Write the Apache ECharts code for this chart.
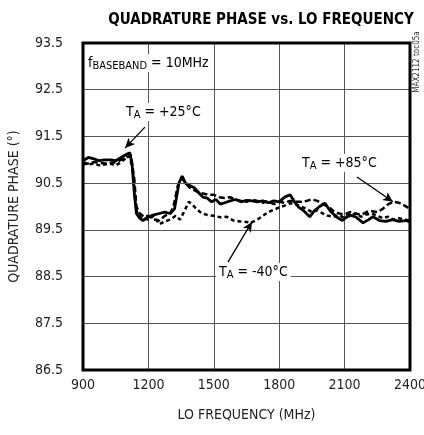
<!DOCTYPE html>
<html><head><meta charset="utf-8">
<script src="https://cdn.jsdelivr.net/npm/echarts@6/dist/echarts.min.js"></script>
<style>html,body{margin:0;padding:0;background:#fff}#c{width:424px;height:435px}</style>
</head><body><div id="c"></div>
<script>
const xTicks = [900, 1200, 1500, 1800, 2100, 2400];
const yTicks = [86.5, 87.5, 88.5, 89.5, 90.5, 91.5, 92.5, 93.5];

const freq25 = [900,925,950,975,1000,1025,1050,1075,1100,1115,1125,1135,1145,1160,1175,1200,1225,1250,1275,1300,1320,1340,1355,1370,1390,1410,1430,1450,1470,1490,1510,1530,1550,1575,1600,1625,1650,1675,1700,1725,1750,1775,1800,1825,1850,1870,1890,1910,1940,1960,1985,2010,2035,2065,2090,2120,2150,2185,2210,2230,2260,2290,2320,2350,2380,2400];
const phase25 = [90.98,91.05,91.02,90.98,91.0,91.0,90.98,91.05,91.12,91.15,90.9,90.3,89.85,89.75,89.7,89.78,89.82,89.85,89.88,89.85,89.95,90.5,90.65,90.5,90.45,90.4,90.3,90.2,90.18,90.1,90.15,90.05,90.08,90.12,90.15,90.1,90.13,90.12,90.1,90.12,90.08,90.12,90.1,90.2,90.25,90.1,89.98,89.92,89.78,89.9,90.0,90.07,89.9,89.77,89.7,89.82,89.78,89.65,89.72,89.78,89.7,89.68,89.72,89.68,89.7,89.67];

const freq85 = [900,950,1000,1050,1100,1120,1135,1145,1160,1180,1200,1225,1250,1275,1300,1315,1335,1355,1370,1390,1410,1430,1450,1475,1500,1525,1550,1575,1600,1625,1650,1675,1700,1725,1750,1775,1800,1825,1850,1875,1900,1925,1950,1975,2000,2025,2050,2075,2100,2125,2150,2175,2200,2225,2250,2275,2300,2325,2350,2375,2400];
const phase85 = [90.9,90.95,90.92,90.95,91.05,91.1,90.6,90.0,89.85,89.78,89.8,89.72,89.7,89.8,89.85,90.0,90.45,90.6,90.5,90.4,90.35,90.3,90.28,90.25,90.25,90.2,90.18,90.2,90.15,90.12,90.1,90.15,90.12,90.08,90.12,90.05,90.1,90.08,90.12,90.1,90.1,90.12,90.15,90.12,90.05,90.0,89.9,89.85,89.83,89.88,89.85,89.82,89.88,89.9,89.88,89.95,90.05,90.1,90.08,90.02,89.95];

const freqM40 = [900,925,950,975,1000,1025,1050,1075,1100,1115,1130,1140,1150,1170,1200,1225,1250,1275,1300,1325,1345,1365,1385,1400,1420,1445,1470,1500,1530,1560,1590,1620,1650,1670,1700,1725,1750,1775,1800,1825,1850,1875,1900,1925,1950,1975,2000,2025,2050,2075,2100,2125,2150,2175,2200,2225,2250,2275,2300,2325,2350,2375,2400];
const phaseM40 = [90.95,90.9,90.92,90.88,90.9,90.92,90.88,90.95,91.05,91.08,90.7,90.1,89.82,89.75,89.72,89.8,89.62,89.68,89.72,89.8,89.72,89.9,90.1,90.05,89.95,89.85,89.82,89.8,89.77,89.78,89.7,89.68,89.67,89.65,89.72,89.8,89.88,89.93,89.98,90.02,90.07,90.05,90.0,89.95,89.88,89.92,89.85,89.8,89.78,89.82,89.75,89.8,89.85,89.78,89.83,89.85,89.8,89.75,89.78,89.72,89.75,89.72,89.7];

const gridValues = [87.5, 88.5, 89.5, 90.5, 91.5, 92.5];

const FONT = '"Liberation Sans Narrow", "DejaVu Sans Condensed", "Liberation Sans", sans-serif';
const zip = (a, b) => a.map((v, i) => [v, b[i]]);

const chart = echarts.init(document.getElementById('c'), null, {renderer: 'canvas'});
const arrowStyle = {color: '#000', width: 1.3, type: 'solid'};
const richTA = {
  a: {fontFamily: FONT, fontSize: 14, color: '#222', verticalAlign: 'top', lineHeight: 16},
  s: {fontFamily: FONT, fontSize: 11, color: '#222', verticalAlign: 'top', lineHeight: 16, padding: [5, 0, 0, 0]}
};
chart.setOption({
  animation: false,
  title: {
    text: 'QUADRATURE PHASE vs. LO FREQUENCY',
    left: 256, top: 8, textAlign: 'center',
    textStyle: {fontFamily: FONT, fontWeight: 'bold', fontSize: 15, color: '#000'}
  },
  grid: {left: 83, top: 43, right: 14, bottom: 65, show: false, outerBoundsMode: 'none', containLabel: false},
  xAxis: {
    type: 'value', min: 900, max: 2400, interval: 300,
    name: 'LO FREQUENCY (MHz)', nameLocation: 'middle', nameGap: 38,
    nameTextStyle: {fontFamily: FONT, fontSize: 14, color: '#222'},
    axisLine: {show: false}, axisTick: {show: false},
    axisLabel: {fontFamily: FONT, fontSize: 14, color: '#222', margin: 8, showMaxLabel: true,
      formatter: v => String(v)},
    splitLine: {show: true, lineStyle: {color: '#555', width: 1}}
  },
  yAxis: {
    type: 'value', min: 86.5, max: 93.5, interval: 0.5,
    name: 'QUADRATURE PHASE (°)', nameLocation: 'middle', nameGap: 62, nameRotate: 90,
    nameTextStyle: {fontFamily: FONT, fontSize: 14, color: '#222'},
    axisLine: {show: false}, axisTick: {show: false},
    axisLabel: {
      fontFamily: FONT, fontSize: 14, color: '#222', margin: 20,
      formatter: v => yTicks.some(t => Math.abs(t - v) < 1e-6) ? v.toFixed(1) : ''
    },
    splitLine: {show: false}
  },
  series: [
    {
      name: 'grid', type: 'line', data: [], silent: true,
      markLine: {
        silent: true, symbol: 'none', label: {show: false},
        lineStyle: {color: '#555', width: 1, type: 'solid'},
        data: gridValues.map(v => ({yAxis: v}))
      }
    },
    {
      name: '-40', type: 'line', data: zip(freqM40, phaseM40), showSymbol: false, symbol: 'none',
      lineStyle: {color: '#000', width: 2.5, type: [4, 3]}
    },
    {
      name: '85', type: 'line', data: zip(freq85, phase85), showSymbol: false, symbol: 'none',
      lineStyle: {color: '#000', width: 2.5, type: [6, 3]}
    },
    {
      name: '25', type: 'line', data: zip(freq25, phase25), showSymbol: false, symbol: 'none',
      lineStyle: {color: '#000', width: 2.8, type: 'solid'},
      markLine: {
        silent: true, symbol: ['none', 'arrow'], symbolSize: [7, 10], label: {show: false},
        lineStyle: arrowStyle,
        data: [
          [{coord: [1184, 91.70]}, {coord: [1093, 91.25]}],
          [{coord: [2157, 90.63]}, {coord: [2322, 90.10]}],
          [{coord: [1565, 88.81]}, {coord: [1675, 89.67]}]
        ]
      }
    }
  ],
  graphic: [
    {type: 'rect', shape: {x: 83, y: 43, width: 327, height: 327}, style: {fill: 'none', stroke: '#000', lineWidth: 3}, z: 100},
    {type: 'text', left: 86, top: 54, z: 50, style: {
      text: '{a|f}{s|BASEBAND}{a| = 10MHz}', backgroundColor: '#fff', padding: [2, 2, 0, 2], rich: richTA
    }},
    {type: 'text', left: 124, top: 103, z: 50, style: {
      text: '{a|T}{s|A}{a| = +25°C}', backgroundColor: '#fff', padding: [2, 2, 0, 2], rich: richTA
    }},
    {type: 'text', left: 300, top: 154, z: 50, style: {
      text: '{a|T}{s|A}{a| = +85°C}', backgroundColor: '#fff', padding: [2, 2, 0, 2], rich: richTA
    }},
    {type: 'text', left: 216, top: 263, z: 50, style: {
      text: '{a|T}{s|A}{a| = -40°C}', backgroundColor: '#fff', padding: [2, 3, 0, 3], rich: richTA
    }},
    {type: 'text', x: 417, y: 62, rotation: Math.PI / 2, z: 50, style: {
      text: 'MAX2112 toc05a', fontFamily: FONT, fontSize: 8, fill: '#333', align: 'center', verticalAlign: 'middle'
    }}
  ]
});
</script></body></html>
